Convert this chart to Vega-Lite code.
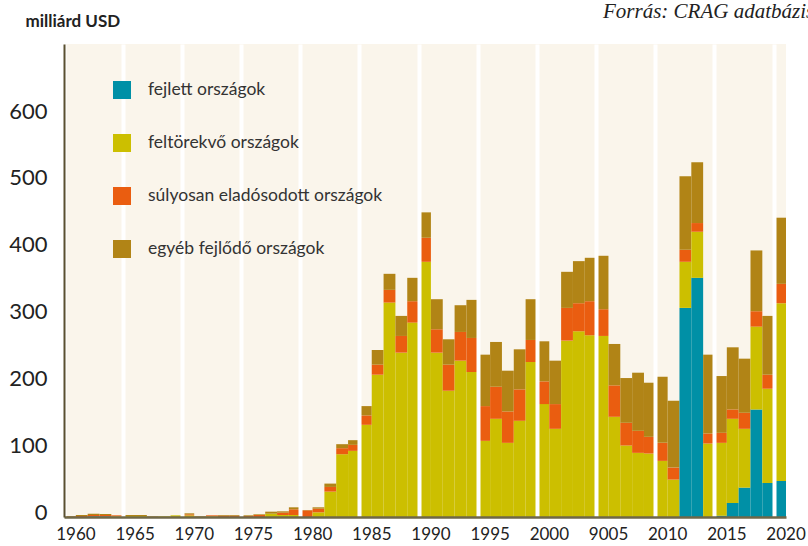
{
  "$schema": "https://vega.github.io/schema/vega-lite/v6.json",
  "width": 722,
  "height": 473,
  "autosize": {"type": "none"},
  "padding": {"left": 64, "top": 44, "right": 22, "bottom": 29},
  "background": "#ffffff",
  "config": {"view": {"fill": "#FAF5EB", "stroke": null}, "font": "Lato"},
  "title": {"text": "Forrás: CRAG adatbázis", "anchor": "start", "frame": "group", "dx": 539, "dy": 27, "font": "Liberation Serif", "fontStyle": "italic", "fontWeight": "normal", "fontSize": 21, "color": "#222222", "baseline": "alphabetic", "offset": 0},
  "data": {"values": [
    {"year":1960,"a":0,"b":0,"c":0.5,"d":1},
    {"year":1961,"a":0,"b":0,"c":1.5,"d":1.5},
    {"year":1962,"a":1,"b":0,"c":2,"d":2},
    {"year":1963,"a":1,"b":0,"c":2,"d":1.5},
    {"year":1964,"a":0,"b":1,"c":1.5,"d":0},
    {"year":1965,"a":0,"b":1.5,"c":0,"d":1.5},
    {"year":1966,"a":0,"b":1.5,"c":0,"d":1.5},
    {"year":1967,"a":0,"b":0,"c":0,"d":1},
    {"year":1968,"a":0,"b":1,"c":0,"d":0},
    {"year":1969,"a":0,"b":2.5,"c":0,"d":0},
    {"year":1970,"a":0,"b":2.5,"c":1.5,"d":1.5},
    {"year":1971,"a":0,"b":0,"c":0,"d":1},
    {"year":1972,"a":0,"b":1,"c":1.5,"d":0},
    {"year":1973,"a":0,"b":0,"c":2,"d":1},
    {"year":1974,"a":0,"b":0,"c":2,"d":1},
    {"year":1975,"a":0,"b":0,"c":1.5,"d":1},
    {"year":1976,"a":0,"b":0,"c":3,"d":1},
    {"year":1977,"a":0,"b":5,"c":0,"d":3},
    {"year":1978,"a":0,"b":3,"c":3.5,"d":2},
    {"year":1979,"a":0,"b":3,"c":8.5,"d":3},
    {"year":1980,"a":0,"b":0,"c":10,"d":0.5},
    {"year":1981,"a":0,"b":7,"c":5.5,"d":2},
    {"year":1982,"a":0,"b":38,"c":7,"d":5},
    {"year":1983,"a":0,"b":94,"c":9,"d":6},
    {"year":1984,"a":0,"b":99,"c":9,"d":7},
    {"year":1985,"a":0,"b":138,"c":14,"d":14},
    {"year":1986,"a":0,"b":213,"c":15,"d":22},
    {"year":1987,"a":0,"b":321,"c":19,"d":24},
    {"year":1988,"a":0,"b":246,"c":25,"d":30},
    {"year":1989,"a":0,"b":291,"c":32,"d":35},
    {"year":1990,"a":0,"b":382,"c":36,"d":38},
    {"year":1991,"a":0,"b":246,"c":35,"d":45},
    {"year":1992,"a":0,"b":189,"c":39,"d":38},
    {"year":1993,"a":0,"b":234,"c":43,"d":40},
    {"year":1994,"a":0,"b":217,"c":51,"d":57},
    {"year":1995,"a":0,"b":114,"c":52,"d":77},
    {"year":1996,"a":0,"b":147,"c":48,"d":67},
    {"year":1997,"a":0,"b":111,"c":47,"d":61},
    {"year":1998,"a":0,"b":144,"c":47,"d":60},
    {"year":1999,"a":0,"b":232,"c":33,"d":61},
    {"year":2000,"a":0,"b":169,"c":34,"d":60},
    {"year":2001,"a":0,"b":132,"c":37,"d":65},
    {"year":2002,"a":0,"b":264,"c":49,"d":54},
    {"year":2003,"a":0,"b":278,"c":42,"d":63},
    {"year":2004,"a":0,"b":272,"c":51,"d":65},
    {"year":2005,"a":0,"b":271,"c":40,"d":80},
    {"year":2006,"a":0,"b":150,"c":47,"d":62},
    {"year":2007,"a":0,"b":107,"c":34,"d":67},
    {"year":2008,"a":0,"b":96,"c":33,"d":87},
    {"year":2009,"a":0,"b":95,"c":25,"d":81},
    {"year":2010,"a":0,"b":84,"c":27,"d":99},
    {"year":2011,"a":0,"b":56,"c":18,"d":100},
    {"year":2012,"a":313,"b":69,"c":18,"d":110},
    {"year":2013,"a":358,"b":69,"c":13,"d":91},
    {"year":2014,"a":0,"b":110,"c":15,"d":118},
    {"year":2015,"a":2,"b":109,"c":15,"d":85},
    {"year":2016,"a":21,"b":126,"c":14,"d":93},
    {"year":2017,"a":44,"b":88,"c":24,"d":81},
    {"year":2018,"a":161,"b":124,"c":23,"d":91},
    {"year":2019,"a":51,"b":141,"c":21,"d":88},
    {"year":2020,"a":54,"b":266,"c":29,"d":99}
  ]},
  "transform": [{"fold": ["a", "b", "c", "d"], "as": ["key", "value"]}],
  "mark": {"type": "bar", "strokeWidth": 0},
  "encoding": {
    "x": {
      "field": "year", "type": "ordinal",
      "scale": {"paddingInner": 0, "paddingOuter": 0},
      "axis": {
        "values": [1960,1965,1970,1975,1980,1985,1990,1995,2000,2005,2010,2015,2020],
        "labelExpr": "datum.value == 2005 ? '9005' : datum.label",
        "bandPosition": 0, "labelOffset": 6, "labelAngle": 0,
        "grid": true, "gridColor": "#ffffff", "gridWidth": 4, "gridOpacity": 1,
        "ticks": false, "domainColor": "#6f6748", "domainWidth": 2.5,
        "labelFont": "Lato", "labelFontSize": 17, "labelColor": "#222222", "labelPadding": 9,
        "title": null, "zindex": 1
      }
    },
    "y": {
      "field": "value", "type": "quantitative", "stack": "zero",
      "scale": {"domain": [0, 708], "nice": false},
      "axis": {
        "values": [0,100,200,300,400,500,600],
        "grid": false, "ticks": false, "domainColor": "#5a5030", "domainWidth": 2,
        "labelFont": "Lato", "labelFontSize": 22, "labelColor": "#222222", "labelPadding": 17, "labelOffset": -5,
        "title": "milliárd USD", "titleAngle": 0, "titleAlign": "left", "titleBaseline": "alphabetic",
        "titleX": -39, "titleY": -18, "titleFont": "Lato", "titleFontSize": 17, "titleFontWeight": "bold", "titleColor": "#222222",
        "zindex": 2
      }
    },
    "color": {
      "field": "key", "type": "nominal",
      "scale": {"domain": ["a", "b", "c", "d"], "range": ["#0090A6", "#CCBF00", "#EA5D10", "#B18416"]},
      "legend": {
        "title": null, "orient": "none", "legendX": 49, "legendY": 37, "zindex": 5,
        "symbolType": "square", "symbolSize": 324, "symbolStrokeWidth": 0, "symbolOpacity": 1,
        "labelExpr": "{'a':'fejlett országok','b':'feltörekvő országok','c':'súlyosan eladósodott országok','d':'egyéb fejlődő országok'}[datum.label]",
        "labelFont": "Lato", "labelFontSize": 17.5, "labelColor": "#333333", "labelOffset": 17,
        "rowPadding": 35, "padding": 0, "labelLimit": 400
      }
    },
    "order": {"field": "key", "sort": "ascending"}
  }
}
